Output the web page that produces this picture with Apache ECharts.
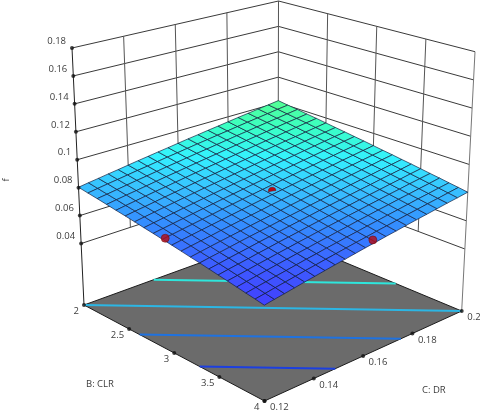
<!DOCTYPE html>
<html><head><meta charset="utf-8">
<style>html,body{margin:0;padding:0;background:#fff}#c{width:480px;height:412px}</style>
<script src="https://cdn.jsdelivr.net/npm/echarts@6/dist/echarts.min.js"></script>
</head><body><div id="c"></div>
<script>
// ---- data ----
const cTicks = [0.12, 0.14, 0.16, 0.18, 0.2];
const bTicks = [2, 2.5, 3, 3.5, 4];
const fTicks = [0.04, 0.06, 0.08, 0.1, 0.12, 0.14, 0.16, 0.18];
const cLabels = ['0.12', '0.14', '0.16', '0.18', '0.2'];
const bLabels = ['2', '2.5', '3', '3.5', '4'];
const fLabels = ['0.04', '0.06', '0.08', '0.1', '0.12', '0.14', '0.16', '0.18'];
const floorF = -0.004;
// surface f x 10^4: rows B = 2 .. 4 (step 0.1), columns C = 0.12 .. 0.2 (step 0.004)
const surfaceF = [
[803,814,824,835,845,856,867,877,888,898,909,920,930,941,951,962,973,983,994,1004,1015],
[791,802,813,823,834,845,855,866,877,887,898,909,919,930,940,951,962,972,983,994,1004],
[780,790,801,812,823,833,844,855,865,876,887,897,908,919,930,940,951,962,972,983,994],
[768,779,790,800,811,822,833,843,854,865,876,886,897,908,919,929,940,951,962,972,983],
[756,767,778,789,800,810,821,832,843,854,864,875,886,897,908,919,929,940,951,962,973],
[745,756,766,777,788,799,810,821,832,842,853,864,875,886,897,908,919,929,940,951,962],
[733,744,755,766,777,788,799,810,820,831,842,853,864,875,886,897,908,919,930,940,951],
[721,732,743,754,765,776,787,798,809,820,831,842,853,864,875,886,897,908,919,930,941],
[710,721,732,743,754,765,776,787,798,809,820,831,842,853,864,875,886,897,908,919,930],
[698,709,720,731,742,753,765,776,787,798,809,820,831,842,853,864,875,886,897,908,920],
[687,698,709,720,731,742,753,764,776,787,798,809,820,831,842,853,864,876,887,898,909],
[675,686,697,708,720,731,742,753,764,776,787,798,809,820,831,843,854,865,876,887,898],
[663,674,686,697,708,719,731,742,753,764,776,787,798,809,820,832,843,854,865,877,888],
[652,663,674,685,697,708,719,730,742,753,764,776,787,798,809,821,832,843,855,866,877],
[640,651,663,674,685,697,708,719,731,742,753,765,776,787,799,810,821,833,844,855,867],
[628,640,651,662,674,685,697,708,719,731,742,754,765,776,788,799,810,822,833,845,856],
[617,628,639,651,662,674,685,697,708,720,731,742,754,765,777,788,800,811,823,834,845],
[605,616,628,639,651,662,674,685,697,708,720,731,743,754,766,777,789,800,812,823,835],
[593,605,616,628,639,651,663,674,686,697,709,720,732,743,755,766,778,790,801,813,824],
[582,593,605,616,628,640,651,663,674,686,698,709,721,732,744,756,767,779,790,802,814],
[570,582,593,605,617,628,640,652,663,675,687,698,710,721,733,745,756,768,780,791,803]
];
const contourLevels = [654, 731, 802.9, 879];
const designPoints = [[0.12, 2.93, 0.0714], [0.1628, 4, 0.0721]];
const centerPoint = [0.16, 3, 0.0823];

// ---- view: screen position of the eight corners of the box ----
const floorCorners = { L: [84, 305], K: [278, 234.5], R: [461.7, 311], F: [264.5, 401] };
const topCorners = { L: [72, 48], K: [278.5, 1], R: [475, 51.7], F: [264, 112] };
const cMin = cTicks[0], cMax = cTicks[cTicks.length - 1];
const bMin = bTicks[0], bMax = bTicks[bTicks.length - 1];
const fMax = fTicks[fTicks.length - 1];

function project(C, B, f) {
  const s = (C - cMin) / (cMax - cMin), t = (B - bMin) / (bMax - bMin), w = (f - floorF) / (fMax - floorF);
  const out = [];
  for (let k = 0; k < 2; k++) {
    const bl = (c) => (1 - s) * (1 - t) * c.L[k] + s * (1 - t) * c.K[k] + s * t * c.R[k] + (1 - s) * t * c.F[k];
    out.push(bl(floorCorners) * (1 - w) + bl(topCorners) * w);
  }
  return out;
}

// ---- colour ramp of the surface ----
const rampF = [570, 654, 731, 803, 879, 950, 1015];
const rampC = [[66, 62, 255], [60, 96, 255], [52, 140, 255], [56, 190, 255], [52, 242, 255], [58, 255, 196], [84, 255, 146]];
function ramp(v) {
  let i = 0;
  while (i < rampF.length - 2 && v > rampF[i + 1]) i++;
  const a = Math.max(0, Math.min(1, (v - rampF[i]) / (rampF[i + 1] - rampF[i])));
  const c = rampC[i].map((x, k) => Math.round(x + (rampC[i + 1][k] - x) * a));
  return 'rgb(' + c.join(',') + ')';
}
const contourColors = ['#1c3fe0', '#1f72e0', '#2cb6e4', '#2ee6dc'];

const nRows = surfaceF.length, nCols = surfaceF[0].length;
const colC = (j) => cMin + (cMax - cMin) * j / (nCols - 1);
const rowB = (i) => bMin + (bMax - bMin) * i / (nRows - 1);

// ---- build mark tables ----
const wallColor = '#3a3a3a';
const wallLines = [];
const inner = (a) => a.slice(1, -1);
fTicks.forEach(f => {
  wallLines.push([cMin, bMin, f, cMax, bMin, f, wallColor]);
  wallLines.push([cMax, bMin, f, cMax, bMax, f, wallColor]);
});
inner(cTicks).forEach(c => wallLines.push([c, bMin, fTicks[0], c, bMin, fMax, '#555']));
inner(bTicks).forEach(b => wallLines.push([cMax, b, fTicks[0], cMax, b, fMax, '#555']));
wallLines.push([cMax, bMin, fTicks[0], cMax, bMin, fMax, '#555']);
wallLines.push([cMin, bMin, floorF, cMin, bMin, fMax, '#222']);
wallLines.push([cMax, bMax, floorF, cMax, bMax, fMax, '#777']);

const cells = [];
for (let i = 0; i < nRows - 1; i++) for (let j = 0; j < nCols - 1; j++) cells.push([i, j]);

// each contour: the straight line between the two places where its level crosses the edge of the table
const perimeter = [];
for (let j = 0; j < nCols - 1; j++) perimeter.push([0, j, 0, j + 1]);
for (let i = 0; i < nRows - 1; i++) perimeter.push([i, nCols - 1, i + 1, nCols - 1]);
for (let j = nCols - 1; j > 0; j--) perimeter.push([nRows - 1, j, nRows - 1, j - 1]);
for (let i = nRows - 1; i > 0; i--) perimeter.push([i, 0, i - 1, 0]);
const contourSegs = contourLevels.map((lv, n) => {
  const hits = [];
  perimeter.forEach(e => {
    const a = surfaceF[e[0]][e[1]], b = surfaceF[e[2]][e[3]];
    if ((a < lv) !== (b < lv)) {
      const u = (lv - a) / (b - a);
      hits.push([colC(e[1]) + (colC(e[3]) - colC(e[1])) * u, rowB(e[0]) + (rowB(e[2]) - rowB(e[0])) * u]);
    }
  });
  return [hits[0][0], hits[0][1], hits[1][0], hits[1][1], contourColors[n]];
});

const tickDots = [];
fTicks.forEach(f => tickDots.push(project(cMin, bMin, f)));
bTicks.forEach(b => tickDots.push(project(cMin, b, floorF)));
cTicks.forEach(c => tickDots.push(project(c, bMax, floorF)));

const tickTexts = [];
fTicks.forEach((f, i) => { const p = project(cMin, bMin, f); tickTexts.push([p[0] - 6, p[1] - 7, fLabels[i], 'right']); });
bTicks.forEach((b, i) => { const p = project(cMin, b, floorF); tickTexts.push([p[0] - 5, p[1] + 6.5, bLabels[i], 'right']); });
cTicks.forEach((c, i) => { const p = project(c, bMax, floorF); tickTexts.push([p[0] + 5.5, p[1] + 6.5, cLabels[i], 'left']); });

const font = '"Open Sans", "Noto Sans", sans-serif';
const textColor = '#3c3c3c';

const chart = echarts.init(document.getElementById('c'), null, { renderer: 'canvas' });
chart.setOption({
  animation: false,
  backgroundColor: '#fff',
  grid: { left: 0, right: 0, top: 0, bottom: 0 },
  xAxis: { type: 'value', min: 0, max: 480, show: false },
  yAxis: { type: 'value', min: 0, max: 412, inverse: true, show: false },
  tooltip: { show: false },
  series: [
    { type: 'custom', z: 1, silent: true, progressive: 0, coordinateSystem: 'cartesian2d', data: wallLines.map((d, i) => [i]),
      encode: { x: 0, y: 0 }, clip: false,
      renderItem: (p, api) => {
        const d = wallLines[api.value(0)];
        const a = api.coord(project(d[0], d[1], d[2])), b = api.coord(project(d[3], d[4], d[5]));
        return { type: 'line', shape: { x1: a[0], y1: a[1], x2: b[0], y2: b[1] }, style: { stroke: d[6], lineWidth: 1 } };
      } },
    { type: 'custom', z: 2, silent: true, progressive: 0, data: [[0]], encode: { x: 0, y: 0 }, clip: false,
      renderItem: (p, api) => ({
        type: 'polygon',
        shape: { points: [[cMin, bMin], [cMax, bMin], [cMax, bMax], [cMin, bMax]].map(q => api.coord(project(q[0], q[1], floorF))) },
        style: { fill: '#6b6b6b', stroke: '#1c1c1c', lineWidth: 1 }
      }) },
    { type: 'custom', z: 3, silent: true, progressive: 0, data: contourSegs.map((d, i) => [i]), encode: { x: 0, y: 0 }, clip: false,
      renderItem: (p, api) => {
        const d = contourSegs[api.value(0)];
        const a = api.coord(project(d[0], d[1], floorF)), b = api.coord(project(d[2], d[3], floorF));
        return { type: 'line', shape: { x1: a[0], y1: a[1], x2: b[0], y2: b[1] }, style: { stroke: d[4], lineWidth: 2 } };
      } },
    { type: 'custom', z: 4, silent: true, progressive: 0, data: cells, encode: { x: 1, y: 0 }, clip: false,
      renderItem: (p, api) => {
        const i = api.value(0), j = api.value(1);
        const pts = [[i, j], [i, j + 1], [i + 1, j + 1], [i + 1, j]].map(q =>
          api.coord(project(colC(q[1]), rowB(q[0]), surfaceF[q[0]][q[1]] / 1e4)));
        const v = (surfaceF[i][j] + surfaceF[i][j + 1] + surfaceF[i + 1][j] + surfaceF[i + 1][j + 1]) / 4;
        return { type: 'polygon', shape: { points: pts }, style: { fill: ramp(v), stroke: 'rgba(18,28,60,0.8)', lineWidth: 0.85 } };
      } },
    { type: 'scatter', z: 5, silent: true, symbol: 'circle', symbolSize: 8,
      itemStyle: { color: '#b80a14', borderColor: '#6a0a10', borderWidth: 0.7 },
      data: designPoints.map(d => project(d[0], d[1], d[2])) },
    { type: 'custom', z: 5, silent: true, progressive: 0, data: [centerPoint], encode: { x: 0, y: 1 }, clip: false,
      renderItem: (p, api) => {
        const a = api.coord(project(centerPoint[0], centerPoint[1], centerPoint[2]));
        return { type: 'sector', shape: { cx: a[0], cy: a[1], r0: 0, r: 3.8, startAngle: Math.PI * 0.95, endAngle: Math.PI * 1.95 },
          style: { fill: '#b80a14', stroke: '#6a0a10', lineWidth: 0.5 } };
      } },
    { type: 'scatter', z: 6, silent: true, symbol: 'circle', symbolSize: 4, itemStyle: { color: '#111' }, data: tickDots },
    { type: 'custom', z: 7, silent: true, progressive: 0, data: tickTexts.map((d, i) => [i]), encode: { x: 0, y: 0 }, clip: false,
      renderItem: (p, api) => {
        const d = tickTexts[api.value(0)];
        const a = api.coord([d[0], d[1]]);
        return { type: 'text', x: a[0], y: a[1], style: { text: d[2], align: d[3], verticalAlign: 'middle', font: '9.5px ' + font, fill: textColor } };
      } }
  ],
  graphic: [
    { type: 'text', x: 6.5, y: 180, rotation: Math.PI / 2, style: { text: 'f', align: 'center', verticalAlign: 'middle', font: '9.5px ' + font, fill: textColor } },
    { type: 'text', x: 86, y: 384, style: { text: 'B: CLR', align: 'left', verticalAlign: 'middle', font: '9.5px ' + font, fill: textColor } },
    { type: 'text', x: 422, y: 390, style: { text: 'C: DR', align: 'left', verticalAlign: 'middle', font: '9.5px ' + font, fill: textColor } }
  ]
});
</script></body></html>
